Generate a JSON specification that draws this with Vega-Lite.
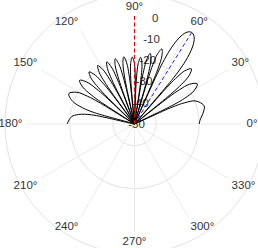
{
  "$schema": "https://vega.github.io/schema/vega-lite/v6.json",
  "width": 216,
  "height": 216,
  "autosize": {"type": "none"},
  "padding": {"left": 26.5, "top": 16, "right": 15.5, "bottom": 16},
  "config": {"view": {"stroke": null}},
  "datasets": {
    "rings": [{"db": -40}, {"db": -30}, {"db": -20}, {"db": -10}, {"db": 0}],
    "spokes": [
      {"a": 0, "label": "0°"}, {"a": 30, "label": "30°"}, {"a": 60, "label": "60°"}, {"a": 90, "label": "90°"},
      {"a": 120, "label": "120°"}, {"a": 150, "label": "150°"}, {"a": 180, "label": "180°"}, {"a": 210, "label": "210°"},
      {"a": 240, "label": "240°"}, {"a": 270, "label": "270°"}, {"a": 300, "label": "300°"}, {"a": 330, "label": "330°"}
    ],
    "ticks": [
      {"db": 0, "t": "0"}, {"db": -10, "t": "-10"}, {"db": -20, "t": "-20"},
      {"db": -30, "t": "-30"}, {"db": -40, "t": "-40"}, {"db": -50, "t": "-50"}
    ],
    "pattern": [
      {"a": 0, "g": -20.0}, {"a": 2.9, "g": -19.7}, {"a": 10.58, "g": -17.4}, {"a": 14.68, "g": -16.7},
      {"a": 20.6, "g": -19.7}, {"a": 23.0, "g": -25.0}, {"a": 24.12, "g": -30.9}, {"a": 25.18, "g": -50},
      {"a": 26.23, "g": -29.7}, {"a": 27.2, "g": -23.8}, {"a": 29.1, "g": -18.5}, {"a": 32.6, "g": -15.5},
      {"a": 35.8, "g": -18.5}, {"a": 37.3, "g": -23.8}, {"a": 38.02, "g": -29.7}, {"a": 38.75, "g": -50},
      {"a": 39.45, "g": -27.5}, {"a": 40.15, "g": -21.6}, {"a": 41.52, "g": -16.3}, {"a": 44.16, "g": -13.3},
      {"a": 46.67, "g": -16.3}, {"a": 47.89, "g": -21.6}, {"a": 48.49, "g": -27.5}, {"a": 49.09, "g": -50},
      {"a": 49.68, "g": -23.6}, {"a": 50.26, "g": -17.1}, {"a": 51.41, "g": -10.5}, {"a": 53.67, "g": -3.9},
      {"a": 55.86, "g": -0.9}, {"a": 58.0, "g": 0}, {"a": 60.09, "g": -0.9}, {"a": 62.13, "g": -3.9},
      {"a": 64.14, "g": -10.5}, {"a": 65.13, "g": -17.1}, {"a": 65.62, "g": -23.6}, {"a": 66.12, "g": -50},
      {"a": 66.6, "g": -27.2}, {"a": 67.09, "g": -21.3}, {"a": 68.06, "g": -16.0}, {"a": 69.98, "g": -13.0},
      {"a": 71.87, "g": -16.0}, {"a": 72.81, "g": -21.3}, {"a": 73.26, "g": -27.2}, {"a": 73.75, "g": -50},
      {"a": 74.21, "g": -30.7}, {"a": 74.68, "g": -24.8}, {"a": 75.6, "g": -19.5}, {"a": 77.44, "g": -16.5},
      {"a": 79.27, "g": -19.5}, {"a": 80.18, "g": -24.8}, {"a": 80.64, "g": -30.7}, {"a": 81.09, "g": -50},
      {"a": 81.54, "g": -33.2}, {"a": 81.99, "g": -27.3}, {"a": 82.89, "g": -22.0}, {"a": 84.7, "g": -19.0},
      {"a": 86.49, "g": -22.0}, {"a": 87.39, "g": -27.3}, {"a": 87.84, "g": -33.2}, {"a": 88.29, "g": -50},
      {"a": 88.73, "g": -33.2}, {"a": 89.18, "g": -27.3}, {"a": 90.07, "g": -22.0}, {"a": 91.87, "g": -19.0},
      {"a": 93.66, "g": -22.0}, {"a": 94.56, "g": -27.3}, {"a": 95.01, "g": -33.2}, {"a": 95.46, "g": -50},
      {"a": 95.91, "g": -32.7}, {"a": 96.36, "g": -26.8}, {"a": 97.26, "g": -21.5}, {"a": 99.07, "g": -18.5},
      {"a": 100.88, "g": -21.5}, {"a": 101.8, "g": -26.8}, {"a": 102.26, "g": -32.7}, {"a": 102.71, "g": -50},
      {"a": 103.17, "g": -32.7}, {"a": 103.63, "g": -26.8}, {"a": 104.55, "g": -21.5}, {"a": 106.42, "g": -18.5},
      {"a": 108.29, "g": -21.5}, {"a": 109.24, "g": -26.8}, {"a": 109.71, "g": -32.7}, {"a": 110.19, "g": -50},
      {"a": 110.67, "g": -32.7}, {"a": 111.14, "g": -26.8}, {"a": 112.1, "g": -21.5}, {"a": 114.05, "g": -18.5},
      {"a": 116.02, "g": -21.5}, {"a": 117.04, "g": -26.8}, {"a": 117.54, "g": -32.7}, {"a": 118.06, "g": -50},
      {"a": 118.55, "g": -32.2}, {"a": 119.06, "g": -26.3}, {"a": 120.09, "g": -21.0}, {"a": 122.18, "g": -18.0},
      {"a": 124.32, "g": -21.0}, {"a": 125.41, "g": -26.3}, {"a": 125.96, "g": -32.2}, {"a": 126.52, "g": -50},
      {"a": 127.08, "g": -32.2}, {"a": 127.64, "g": -26.3}, {"a": 128.78, "g": -21.0}, {"a": 131.11, "g": -18.0},
      {"a": 133.53, "g": -21.0}, {"a": 134.79, "g": -26.3}, {"a": 135.42, "g": -32.2}, {"a": 136.05, "g": -50},
      {"a": 136.71, "g": -31.7}, {"a": 137.36, "g": -25.8}, {"a": 138.7, "g": -20.5}, {"a": 141.5, "g": -17.5},
      {"a": 144.47, "g": -20.5}, {"a": 146.05, "g": -25.8}, {"a": 146.85, "g": -31.7}, {"a": 147.68, "g": -50},
      {"a": 148.53, "g": -30.7}, {"a": 149.39, "g": -24.8}, {"a": 151.2, "g": -19.5}, {"a": 155.18, "g": -16.5},
      {"a": 159.85, "g": -19.5}, {"a": 162.65, "g": -24.8}, {"a": 164.21, "g": -30.7}, {"a": 165.96, "g": -50},
      {"a": 167.96, "g": -29.7}, {"a": 170.3, "g": -23.8}, {"a": 173.46, "g": -20.6}, {"a": 180, "g": -18.8}
    ],
    "markers": [
      {"a": 90, "g": 0, "kind": "steer"},
      {"a": 58, "g": 0, "kind": "peak"}
    ]
  },
  "layer": [
    {
      "data": {"name": "rings"},
      "transform": [{"calculate": "datum.db + 50", "as": "rr"}],
      "mark": {"type": "arc", "filled": false, "stroke": "#e6e6e6", "strokeWidth": 0.8},
      "encoding": {
        "theta": {"value": 0},
        "theta2": {"value": 6.2832},
        "radius": {"field": "rr", "type": "quantitative", "scale": {"type": "linear", "domain": [0, 50], "range": [0, 108]}}
      }
    },
    {
      "data": {"name": "spokes"},
      "transform": [
        {"calculate": "0", "as": "ox"},
        {"calculate": "50 * cos(datum.a * PI / 180)", "as": "sx"},
        {"calculate": "50 * sin(datum.a * PI / 180)", "as": "sy"}
      ],
      "mark": {"type": "rule", "stroke": "#e6e6e6", "strokeWidth": 0.8},
      "encoding": {
        "x": {"field": "ox", "type": "quantitative", "scale": {"domain": [-50, 50], "nice": false, "zero": false}, "axis": null},
        "y": {"field": "ox", "type": "quantitative", "scale": {"domain": [-50, 50], "nice": false, "zero": false}, "axis": null},
        "x2": {"field": "sx"},
        "y2": {"field": "sy"}
      }
    },
    {
      "data": {"name": "spokes"},
      "transform": [
        {"calculate": "51.9 * cos(datum.a * PI / 180)", "as": "lx"},
        {"calculate": "51.9 * sin(datum.a * PI / 180)", "as": "ly"}
      ],
      "mark": {
        "type": "text",
        "font": "Liberation Sans",
        "fontSize": 11.5,
        "color": "#333333",
        "align": {"expr": "datum.a == 90 || datum.a == 270 ? 'center' : (datum.a > 90 && datum.a < 270 ? 'right' : 'left')"},
        "baseline": {"expr": "datum.a == 0 || datum.a == 180 ? 'middle' : (datum.a < 180 ? 'bottom' : 'top')"}
      },
      "encoding": {
        "x": {"field": "lx", "type": "quantitative"},
        "y": {"field": "ly", "type": "quantitative"},
        "text": {"field": "label"}
      }
    },
    {
      "data": {"name": "ticks"},
      "transform": [
        {"calculate": "(datum.db + 50) * cos(80 * PI / 180)", "as": "tx"},
        {"calculate": "(datum.db + 50) * sin(80 * PI / 180)", "as": "ty"}
      ],
      "mark": {"type": "text", "font": "Liberation Sans", "fontSize": 11.5, "color": "#333333", "align": "center", "baseline": "middle", "dx": 2, "dy": 1},
      "encoding": {
        "x": {"field": "tx", "type": "quantitative"},
        "y": {"field": "ty", "type": "quantitative"},
        "text": {"field": "t"}
      }
    },
    {
      "data": {"name": "pattern"},
      "transform": [
        {"calculate": "max(datum.g, -50) + 50", "as": "rr"},
        {"calculate": "datum.rr * cos(datum.a * PI / 180)", "as": "px"},
        {"calculate": "datum.rr * sin(datum.a * PI / 180)", "as": "py"}
      ],
      "mark": {"type": "line", "color": "#000000", "strokeWidth": 1, "interpolate": "catmull-rom"},
      "encoding": {
        "x": {"field": "px", "type": "quantitative"},
        "y": {"field": "py", "type": "quantitative"},
        "order": {"field": "a", "type": "quantitative"}
      }
    },
    {
      "data": {"name": "markers"},
      "transform": [
        {"calculate": "0", "as": "ox"},
        {"calculate": "(datum.g + 50) * cos(datum.a * PI / 180)", "as": "ex"},
        {"calculate": "(datum.g + 50) * sin(datum.a * PI / 180)", "as": "ey"}
      ],
      "mark": {"type": "rule", "strokeWidth": 1, "strokeDash": [4, 2.5]},
      "encoding": {
        "x": {"field": "ox", "type": "quantitative"},
        "y": {"field": "ox", "type": "quantitative"},
        "x2": {"field": "ex"},
        "y2": {"field": "ey"},
        "color": {"field": "kind", "type": "nominal", "scale": {"domain": ["steer", "peak"], "range": ["#e60000", "#1f1fff"]}, "legend": null}
      }
    }
  ]
}
